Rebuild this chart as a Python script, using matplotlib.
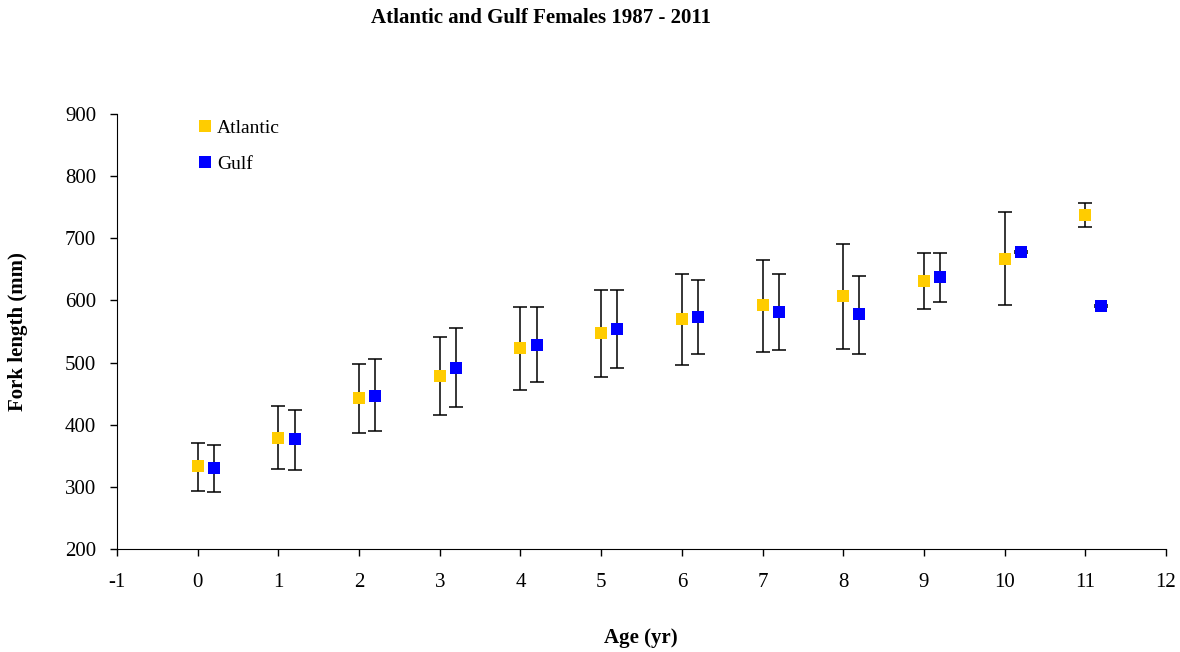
import matplotlib
matplotlib.use("Agg")
import matplotlib.pyplot as plt
import numpy as np

ages = [0, 1, 2, 3, 4, 5, 6, 7, 8, 9, 10, 11]
atl_mean = [333, 379, 443, 478, 523, 548, 570, 592, 607, 632, 667, 738]
atl_low = [294, 329, 387, 415, 456, 477, 496, 517, 522, 587, 592, 718]
atl_high = [371, 430, 498, 541, 589, 617, 643, 665, 691, 677, 742, 757]
gulf_mean = [330, 377, 447, 492, 529, 554, 574, 581, 578, 637, 678, 591]
gulf_low = [292, 327, 390, 428, 468, 491, 514, 521, 514, 597, 676, 590]
gulf_high = [367, 424, 505, 555, 590, 616, 633, 642, 640, 677, 680, 592]
gulf_offset = 0.2

plt.rcParams['font.family'] = ['Liberation Serif', 'DejaVu Serif']
plt.rcParams['axes.unicode_minus'] = False

fig = plt.figure(figsize=(11.8, 6.52), dpi=100)
ax = fig.add_axes([117/1180, 1-549/652, (1166-117)/1180, (549-114)/652])

a_m = np.array(atl_mean); g_m = np.array(gulf_mean)
a_err = [a_m - np.array(atl_low), np.array(atl_high) - a_m]
g_err = [g_m - np.array(gulf_low), np.array(gulf_high) - g_m]
x = np.array(ages, dtype=float)

ax.errorbar(x, a_m, yerr=a_err, fmt='none', ecolor='black', elinewidth=1.1,
            capsize=5, capthick=1.1, zorder=2)
ax.errorbar(x + gulf_offset, g_m, yerr=g_err, fmt='none', ecolor='black', elinewidth=1.1,
            capsize=5, capthick=1.1, zorder=2)
ax.plot(x, a_m, 's', color='#FFCC00', markersize=8, markeredgewidth=0, zorder=3, label='Atlantic')
ax.plot(x + gulf_offset, g_m, 's', color='#0000FF', markersize=8, markeredgewidth=0, zorder=3, label='Gulf')

ax.set_xlim(-1, 12)
ax.set_ylim(200, 900)
ax.set_xticks(range(-1, 13))
ax.set_yticks(range(200, 901, 100))
ax.spines['top'].set_visible(False)
ax.spines['right'].set_visible(False)
ax.tick_params(direction='out', length=5, width=1, labelsize=15, pad=10)
ax.tick_params(axis='x', pad=12)

ax.legend(loc='upper left', bbox_to_anchor=(0.071, 1.005), frameon=False,
          fontsize=14, labelspacing=0.95, handlelength=0.6, handletextpad=0.3,
          borderaxespad=0)

fig.text(541/1180, 1-18/652, 'Atlantic and Gulf Females 1987 - 2011', ha='center', va='center',
         fontsize=15, fontweight='bold')
fig.text(641/1180, 1-638/652, 'Age (yr)', ha='center', va='center', fontsize=15, fontweight='bold')
fig.text(18/1180, 1-332/652, 'Fork length (mm)', ha='center', va='center', rotation=90,
         fontsize=15, fontweight='bold')

fig.savefig('out.png', dpi=100)
